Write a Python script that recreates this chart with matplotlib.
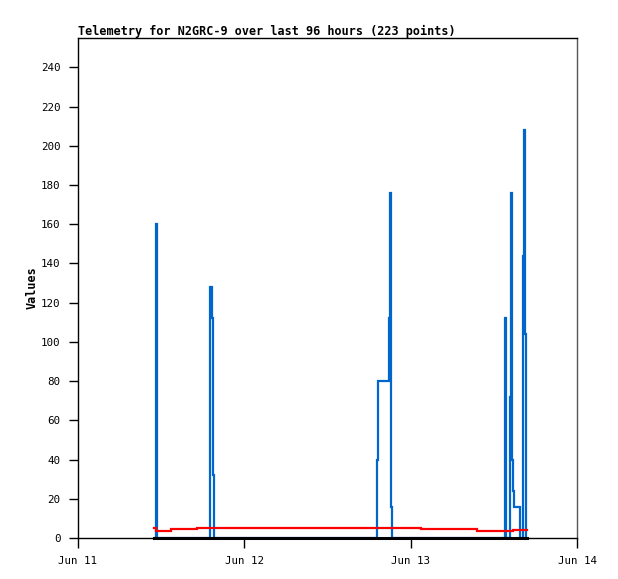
import matplotlib
matplotlib.use("Agg")
import matplotlib.pyplot as plt
import matplotlib.dates as mdates
import pandas as pd

START = pd.Timestamp("2024-06-11 00:00")

# hours after Jun 11 00:00, value (drawn as steps)
blue_hours = [11.0, 11.25, 11.4, 19.1, 19.3, 19.45, 19.6,
              43.2, 43.35, 44.8, 44.95, 45.15, 45.3,
              61.65, 61.8, 62.3, 62.45, 62.55, 62.7, 62.85, 63.8,
              64.15, 64.35, 64.55, 64.7, 64.8]
blue_values = [0, 160, 0, 128, 112, 32, 0,
               40, 80, 112, 176, 16, 0,
               112, 0, 72, 176, 40, 24, 16, 0,
               144, 208, 104, 0, 0]

red_hours = [11.0, 11.25, 13.4, 17.2, 49.5, 57.6, 62.8, 64.8]
red_values = [5.0, 3.7, 4.4, 5.0, 4.5, 3.8, 4.3, 4.3]

black_hours = [11.0, 64.8]
black_values = [0, 0]

title = "Telemetry for N2GRC-9 over last 96 hours (223 points)"


def to_times(hours):
    return [START + pd.Timedelta(hours=h) for h in hours]


def main():
    mono = "DejaVu Sans Mono"
    fig = plt.figure(figsize=(6.18, 5.79), dpi=100, facecolor="white")
    ax = fig.add_axes([0.1262, 0.0708, 0.8075, 0.8636])

    ax.plot(to_times(blue_hours), blue_values, drawstyle="steps-post",
            color="#0066CC", linewidth=1.6, solid_joinstyle="miter",
            solid_capstyle="butt", zorder=2)
    ax.plot(to_times(red_hours), red_values, drawstyle="steps-post",
            color="#FF0000", linewidth=1.6, solid_joinstyle="miter",
            zorder=3)
    ax.plot(to_times(black_hours), black_values, color="black",
            linewidth=2.2, zorder=4, clip_on=False)

    ax.set_xlim(START, START + pd.Timedelta(days=3))
    ax.set_ylim(0, 255)
    ax.set_yticks(range(0, 241, 20))
    ax.xaxis.set_major_locator(mdates.DayLocator())
    ax.xaxis.set_major_formatter(mdates.DateFormatter("%b %d"))

    ax.tick_params(axis="y", direction="out", length=6.5, width=1,
                   labelsize=7.8, pad=6)
    ax.tick_params(axis="x", direction="out", length=7, width=1,
                   labelsize=7.8, pad=6)
    for lab in ax.get_xticklabels() + ax.get_yticklabels():
        lab.set_family(mono)
    for s in ax.spines.values():
        s.set_linewidth(1)
    ax.spines["right"].set_color("#555555")

    ax.set_ylabel("Values", family=mono, fontweight="bold", fontsize=8.5,
                  labelpad=2)
    ax.set_title(title, loc="left", family=mono, fontweight="bold",
                 fontsize=8.45, pad=2)

    fig.savefig("out.png", dpi=100, facecolor="white")


if __name__ == "__main__":
    main()
